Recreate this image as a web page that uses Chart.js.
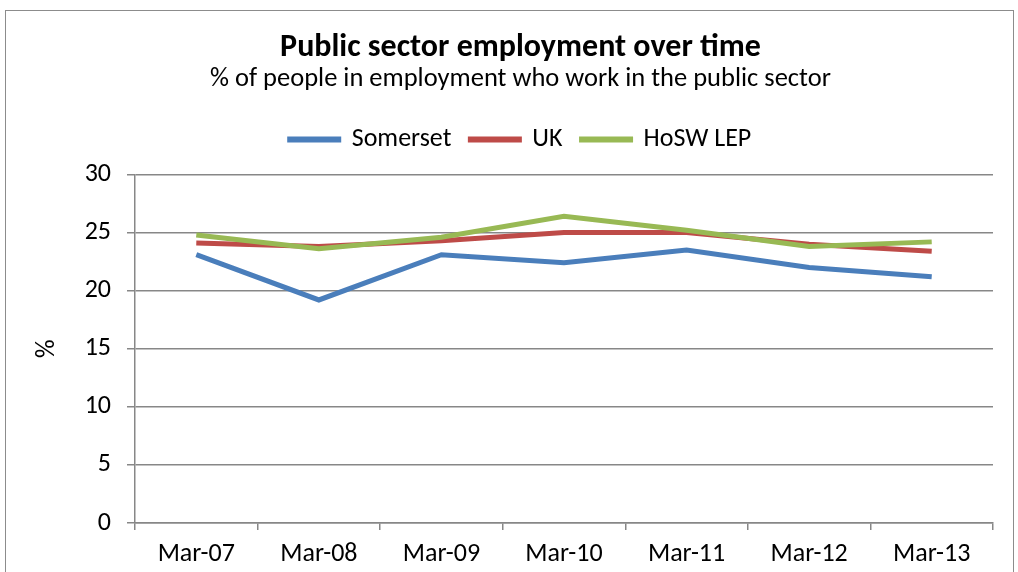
<!DOCTYPE html>
<html lang="en">
<head>
    <meta charset="UTF-8">
    <title>Public sector employment over time</title>
    <script src="https://cdn.jsdelivr.net/npm/chart.js"></script>
    <style>
        body {
            margin: 0;
            background-color: #ffffff;
            overflow: hidden;
        }

        .frame {
            position: absolute;
            left: 5px;
            top: 10px;
            width: 1007px;
            height: 600px;
            border: 1px solid #8c8c8c;
        }

        .chart-container {
            position: absolute;
            left: 0;
            top: 0;
            width: 1018px;
            height: 572px;
        }
    </style>
</head>
<body>
    <div class="frame"></div>
    <div class="chart-container">
        <canvas id="employmentChart"></canvas>
    </div>

    <script>
        // Data
        const months = ['Mar-07', 'Mar-08', 'Mar-09', 'Mar-10', 'Mar-11', 'Mar-12', 'Mar-13'];
        const somerset = [23.1, 19.2, 23.1, 22.4, 23.5, 22.0, 21.2];
        const uk = [24.1, 23.8, 24.3, 25.0, 25.0, 24.0, 23.4];
        const hoswLep = [24.8, 23.6, 24.6, 26.4, 25.2, 23.8, 24.2];
        const yTicks = [0, 5, 10, 15, 20, 25, 30];

        const fontFamily = "Carlito, Calibri, 'Noto Sans', sans-serif";
        const textColor = '#000000';
        const gridColor = '#878787';

        // Extra space between the legend and the plot area
        const legendGap = {
            id: 'legendGap',
            beforeInit(chart) {
                const origFit = chart.legend.fit;
                chart.legend.fit = function () {
                    origFit.bind(chart.legend)();
                    this.height += 12;
                };
            }
        };

        const ctx = document.getElementById('employmentChart').getContext('2d');
        const chart = new Chart(ctx, {
            type: 'line',
            data: {
                labels: months,
                datasets: [
                    {
                        label: 'Somerset',
                        data: somerset,
                        borderColor: '#4a7ebb',
                        backgroundColor: '#4a7ebb',
                        borderWidth: 5,
                        pointRadius: 0,
                        tension: 0,
                        order: 3
                    },
                    {
                        label: 'UK',
                        data: uk,
                        borderColor: '#be4b48',
                        backgroundColor: '#be4b48',
                        borderWidth: 5,
                        pointRadius: 0,
                        tension: 0,
                        order: 2
                    },
                    {
                        label: 'HoSW LEP',
                        data: hoswLep,
                        borderColor: '#98b954',
                        backgroundColor: '#98b954',
                        borderWidth: 5,
                        pointRadius: 0,
                        tension: 0,
                        order: 1
                    }
                ]
            },
            plugins: [legendGap],
            options: {
                responsive: true,
                maintainAspectRatio: false,
                animation: false,
                layout: {
                    padding: { left: 48, right: 25, top: 0, bottom: 0 }
                },
                plugins: {
                    title: {
                        display: true,
                        text: 'Public sector employment over time',
                        color: textColor,
                        font: { family: fontFamily, size: 32, weight: 'bold', lineHeight: 1 },
                        padding: { top: 32, bottom: 2 }
                    },
                    subtitle: {
                        display: true,
                        text: '% of people in employment who work in the public sector',
                        color: textColor,
                        font: { family: fontFamily, size: 26.5, lineHeight: 1 },
                        padding: { top: 0, bottom: 15 }
                    },
                    legend: {
                        position: 'top',
                        labels: {
                            color: textColor,
                            font: { family: fontFamily, size: 26 },
                            boxWidth: 49,
                            boxHeight: 1,
                            padding: 19,
                            sort: (a, b) => a.datasetIndex - b.datasetIndex
                        }
                    },
                    tooltip: { enabled: false }
                },
                scales: {
                    x: {
                        offset: true,
                        grid: {
                            offset: true,
                            drawOnChartArea: false,
                            drawTicks: true,
                            tickLength: 7,
                            color: gridColor,
                            lineWidth: 1.5
                        },
                        border: { color: gridColor, width: 1.5 },
                        ticks: {
                            color: textColor,
                            font: { family: fontFamily, size: 26 },
                            padding: 9,
                            maxRotation: 0
                        },
                        afterFit: (scale) => { scale.height = 49; }
                    },
                    y: {
                        min: 0,
                        max: 30,
                        afterBuildTicks: (scale) => {
                            scale.ticks = yTicks.map(v => ({ value: v }));
                        },
                        grid: {
                            color: gridColor,
                            lineWidth: 1.5,
                            tickLength: 8
                        },
                        border: { color: gridColor, width: 1.5 },
                        ticks: {
                            color: textColor,
                            font: { family: fontFamily, size: 26 },
                            padding: 16
                        },
                        title: {
                            display: true,
                            text: '%',
                            color: textColor,
                            font: { family: fontFamily, size: 26, lineHeight: 1 },
                            padding: { top: -14, bottom: 0 }
                        },
                        afterFit: (scale) => { scale.width = 87; }
                    }
                }
            }
        });
    </script>
</body>
</html>
